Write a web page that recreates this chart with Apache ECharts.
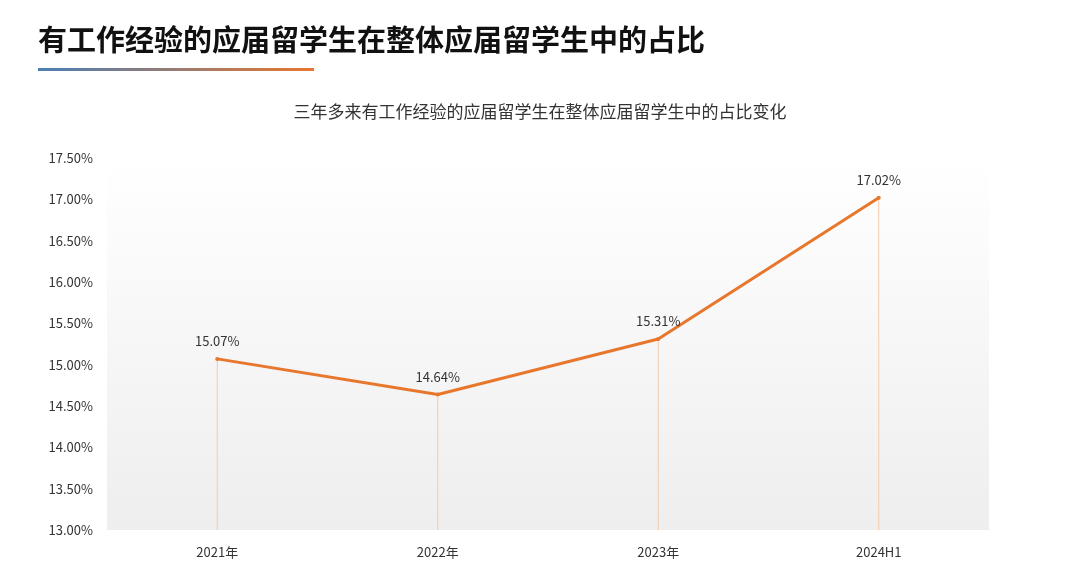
<!DOCTYPE html>
<html><head><meta charset="utf-8">
<script src="https://cdn.jsdelivr.net/npm/echarts@6/dist/echarts.min.js"></script>
<style>html,body{margin:0;padding:0;background:#fff}#c{width:1080px;height:571px}</style>
</head><body><div id="c"></div>
<script>
const categories = ['2021年','2022年','2023年','2024H1'];
const values = [15.07, 14.64, 15.31, 17.02];
const yTicks = [13, 17.5, 0.5];
const chart = echarts.init(document.getElementById('c'));
const F = '"Noto Sans CJK SC","Noto Sans",sans-serif';
chart.setOption({
  animation:false,
  title:[
    {text:'有工作经验的应届留学生在整体应届留学生中的占比',left:33,top:20,textStyle:{fontFamily:F,fontSize:29,fontWeight:'bold',color:'#111'}},
    {text:'三年多来有工作经验的应届留学生在整体应届留学生中的占比变化',left:'center',top:98,textStyle:{fontFamily:F,fontSize:17,fontWeight:'normal',color:'#333'}}
  ],
  graphic:[{type:'rect',shape:{x:38,y:68,width:276,height:3},style:{fill:new echarts.graphic.LinearGradient(0,0,1,0,[{offset:0,color:'#4a7fb5'},{offset:1,color:'#e8772e'}])}}],
  grid:{left:107,right:91,top:158,bottom:41,show:true,borderWidth:0,
    backgroundColor:new echarts.graphic.LinearGradient(0,0,0,1,[{offset:0,color:'rgba(255,255,255,1)'},{offset:1,color:'#eeeeee'}])},
  xAxis:{type:'category',data:categories,boundaryGap:true,
    axisLine:{show:false},axisTick:{show:false},
    axisLabel:{fontFamily:F,fontSize:13,color:'#333',margin:16}},
  yAxis:{type:'value',min:yTicks[0],max:yTicks[1],interval:yTicks[2],
    splitLine:{show:false},axisLine:{show:false},axisTick:{show:false},
    axisLabel:{fontFamily:F,fontSize:13,color:'#333',margin:14,formatter:v=>v.toFixed(2)+'%'}},
  series:[
    {type:'bar',data:values,barWidth:1,itemStyle:{color:'#f7c9a8'},silent:true},
    {type:'line',data:values,symbol:'circle',symbolSize:4,
      lineStyle:{color:'#e8772e',width:3},itemStyle:{color:'#e8772e'},
      label:{show:true,position:'top',distance:9,fontFamily:F,fontSize:13,color:'#333',formatter:p=>p.value.toFixed(2)+'%'}}
  ]
});
</script></body></html>
